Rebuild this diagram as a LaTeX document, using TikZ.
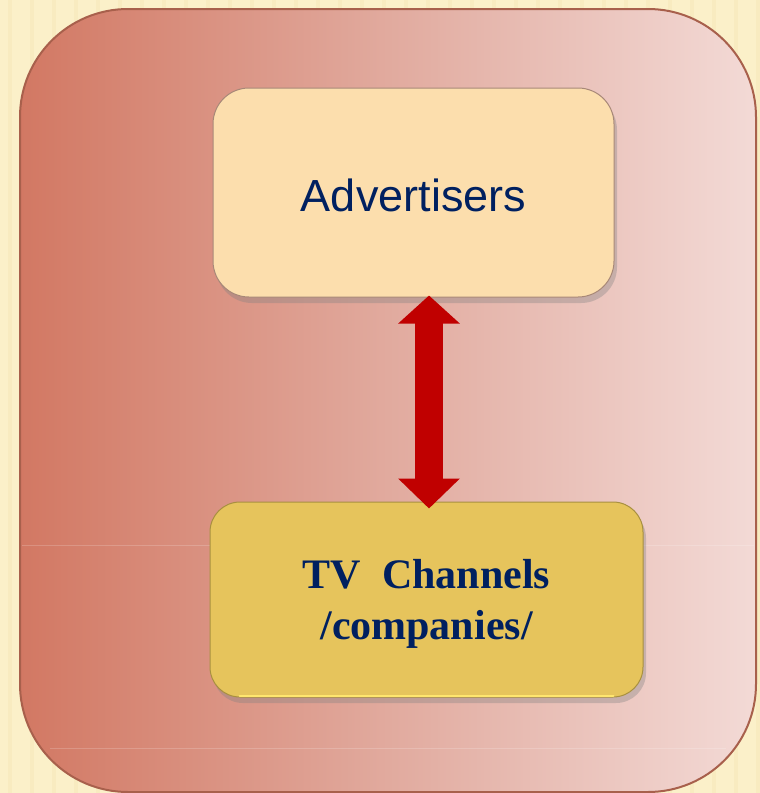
\documentclass[tikz,border=0pt]{standalone}
\usepackage{fontspec}
\setmainfont{Liberation Serif}
\setsansfont{Liberation Sans}
\usetikzlibrary{shadows,arrows.meta}
\definecolor{paper}{HTML}{FBF0C9}
\definecolor{paperdark}{HTML}{F0DFA8}
\definecolor{panelL}{HTML}{D27863}
\definecolor{panelM}{HTML}{E1AA9E}
\definecolor{panelR}{HTML}{F3DAD6}
\definecolor{panelborder}{HTML}{A8604C}
\definecolor{advfill}{HTML}{FCDEAD}
\definecolor{advborder}{HTML}{A88878}
\definecolor{tvfill}{HTML}{E6C45C}
\definecolor{tvborder}{HTML}{A89040}
\definecolor{tvlight}{HTML}{FFE66E}
\definecolor{navy}{HTML}{002060}
\definecolor{arrowred}{HTML}{C00000}
\tikzset{
  boxbase/.style={rectangle, inner sep=0pt, align=center, text=navy,
    drop shadow={opacity=0.35, shadow xshift=3pt, shadow yshift=-6pt}},
  advbox/.style={boxbase, rounded corners=36pt, fill=advfill, draw=advborder, line width=1pt,
    minimum width=401pt, minimum height=209pt,
    font=\sffamily\fontsize{45}{54}\selectfont},
  tvbox/.style={boxbase, rounded corners=30pt, fill=tvfill, draw=tvborder, line width=1pt,
    minimum width=433pt, minimum height=195pt,
    font=\rmfamily\bfseries\fontsize{42}{51}\selectfont},
  blockarrow/.style={draw=arrowred, line width=28pt,
    {Triangle[length=28pt,width=60pt,fill=arrowred]}-{Triangle[length=30pt,width=60pt,fill=arrowred]}},
  seam/.style={draw=white, opacity=0.18, line width=1pt}
}
\begin{document}
\begin{tikzpicture}[x=1pt,y=-1pt]
\useasboundingbox (0,0) rectangle (760,793);
\fill[paper] (0,0) rectangle (760,793);
\foreach \xx in {8,30,52,74,96,118,140,162,184,206,228,250,272,294,316,338,360,382,404,426,448,470,492,514,536,558,580,602,624,646,668,690,712,734,756}
  \fill[paperdark, opacity=0.25] (\xx,0) rectangle (\xx+4,793);
\shade[left color=panelL, right color=panelR, middle color=panelM, rounded corners=108pt]
  (20,9) rectangle (756,792);
\draw[panelborder, line width=2pt, rounded corners=108pt] (20,9) rectangle (756,792);
\draw[seam] (22,545) -- (754,545);
\draw[seam] (50,748) -- (726,748);
\node[advbox] (adv) at (413.5,192.5) {\raisebox{-3pt}[\height][\depth]{Advertisers}};
\node[tvbox] (tv) at (426.5,599.5) {\raisebox{-4pt}[\height][\depth]{\begin{tabular}{@{}c@{}}TV\ \ Channels\\/companies/\end{tabular}}};
\draw[tvlight, line width=2pt, line cap=round] ([xshift=30pt,yshift=1.5pt]tv.south west) -- ([xshift=-30pt,yshift=1.5pt]tv.south east);
\draw[blockarrow] ([xshift=15.5pt,yshift=2pt]adv.south) -- ([xshift=2.5pt,yshift=-7pt]tv.north);
\end{tikzpicture}
\end{document}
